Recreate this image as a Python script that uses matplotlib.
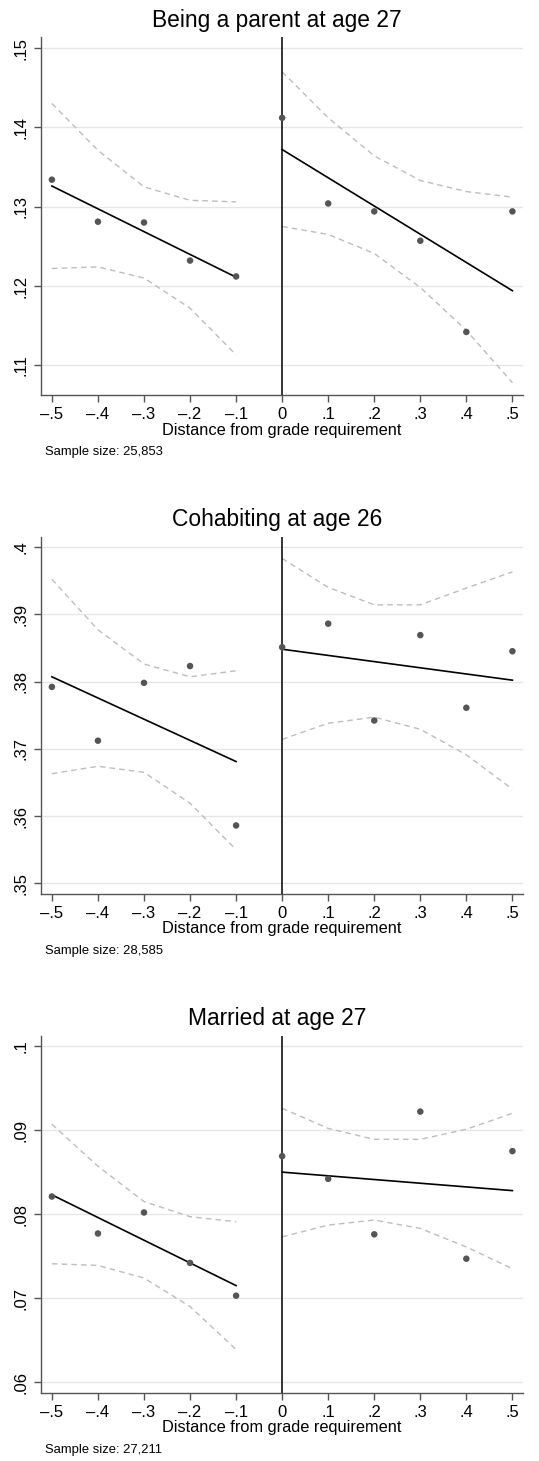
import matplotlib
matplotlib.use("Agg")
import matplotlib.pyplot as plt
import numpy as np

plt.rcParams["font.family"] = ["Liberation Sans", "DejaVu Sans"]

X = [-0.5, -0.4, -0.3, -0.2, -0.1, 0.0, 0.1, 0.2, 0.3, 0.4, 0.5]
X_LEFT = X[:5]
X_RIGHT = X[5:]

TITLES = ["Being a parent at age 27", "Cohabiting at age 26", "Married at age 27"]
SAMPLE_SIZES = ["25,853", "28,585", "27,211"]

# binned means
parent_points = [.1334, .1281, .1280, .1232, .1212, .1412, .1304, .1294, .1257, .1142, .1294]
cohab_points = [.3792, .3712, .3798, .3823, .3586, .3851, .3886, .3742, .3869, .3761, .3845]
married_points = [.0821, .0777, .0802, .0742, .0703, .0869, .0842, .0776, .0922, .0747, .0875]

# linear fits (endpoints on each side)
parent_fit_left = [.1326, .1211]
parent_fit_right = [.1372, .1194]
cohab_fit_left = [.3807, .3681]
cohab_fit_right = [.3848, .3802]
married_fit_left = [.0823, .0715]
married_fit_right = [.0850, .0828]

# confidence bands
parent_ci_hi_left = [.1430, .1371, .1325, .1308, .1306]
parent_ci_lo_left = [.1222, .1224, .1210, .1172, .1113]
parent_ci_hi_right = [.1470, .1412, .1364, .1333, .1319, .1312]
parent_ci_lo_right = [.1275, .1265, .1241, .1198, .1144, .1078]

cohab_ci_hi_left = [.3952, .3877, .3826, .3807, .3816]
cohab_ci_lo_left = [.3663, .3674, .3665, .3619, .3550]
cohab_ci_hi_right = [.3983, .3940, .3914, .3914, .3939, .3963]
cohab_ci_lo_right = [.3714, .3738, .3747, .3729, .3691, .3640]

married_ci_hi_left = [.0907, .0857, .0815, .0797, .0791]
married_ci_lo_left = [.0741, .0739, .0724, .0690, .0639]
married_ci_hi_right = [.0926, .0902, .0889, .0889, .0901, .0920]
married_ci_lo_right = [.0773, .0787, .0793, .0783, .0761, .0735]

Y_TICKS = [
    [.11, .12, .13, .14, .15],
    [.35, .36, .37, .38, .39, .4],
    [.06, .07, .08, .09, .1],
]
Y_LIMS = [(.10625, .15139), (.34841, .40153), (.05876, .10123)]

panels = [
    (parent_points, parent_fit_left, parent_fit_right,
     parent_ci_hi_left, parent_ci_lo_left, parent_ci_hi_right, parent_ci_lo_right),
    (cohab_points, cohab_fit_left, cohab_fit_right,
     cohab_ci_hi_left, cohab_ci_lo_left, cohab_ci_hi_right, cohab_ci_lo_right),
    (married_points, married_fit_left, married_fit_right,
     married_ci_hi_left, married_ci_lo_left, married_ci_hi_right, married_ci_lo_right),
]


def stata_label(v):
    s = f"{v:.2f}".rstrip("0").rstrip(".")
    if s in ("0", "-0"):
        return "0"
    s = s.replace("0.", ".")
    return s.replace("-", "\u2013")


W, H = 539, 1461
fig = plt.figure(figsize=(W / 100, H / 100), dpi=100)

left_px, right_px = 41.3, 523.0
tops = [37.0, 536.7, 1035.7]
bottoms = [395.0, 894.0, 1392.7]

ci_color = "#bdbdbd"
dot_color = "#555555"

for i, (pts, fl, fr, chl, cll, chr_, clr) in enumerate(panels):
    ax = fig.add_axes([
        left_px / W,
        1 - bottoms[i] / H,
        (right_px - left_px) / W,
        (bottoms[i] - tops[i]) / H,
    ])
    ax.set_xlim(-0.523, 0.523)
    ax.set_ylim(*Y_LIMS[i])

    for yt in Y_TICKS[i]:
        ax.axhline(yt, color="#e6e6e6", lw=1.0, zorder=0)

    ax.plot(X_LEFT, chl, color=ci_color, lw=1.0, dashes=(4, 3), zorder=2)
    ax.plot(X_LEFT, cll, color=ci_color, lw=1.0, dashes=(4, 3), zorder=2)
    ax.plot(X_RIGHT, chr_, color=ci_color, lw=1.0, dashes=(4, 3), zorder=2)
    ax.plot(X_RIGHT, clr, color=ci_color, lw=1.0, dashes=(4, 3), zorder=2)

    ax.plot([X_LEFT[0], X_LEFT[-1]], fl, color="black", lw=1.2, zorder=3)
    ax.plot([X_RIGHT[0], X_RIGHT[-1]], fr, color="black", lw=1.2, zorder=3)

    ax.scatter(X, pts, s=22, color=dot_color, edgecolors="none", zorder=4)
    ax.axvline(0, color="black", lw=1.1, zorder=3)

    for side in ("top", "right"):
        ax.spines[side].set_visible(False)
    for side in ("left", "bottom"):
        ax.spines[side].set_color("#555555")
        ax.spines[side].set_linewidth(1.0)

    ax.set_xticks(X)
    ax.set_xticklabels([stata_label(v) for v in X], fontsize=12)
    ax.set_yticks(Y_TICKS[i])
    ax.set_yticklabels([stata_label(v) for v in Y_TICKS[i]], fontsize=12,
                       rotation=90, va="center")
    ax.tick_params(axis="x", length=5, width=1.0, color="#555555", pad=3.5)
    ax.tick_params(axis="y", length=5, width=1.0, color="#555555", pad=4)
    ax.set_xlabel("Distance from grade requirement", fontsize=11.8, labelpad=0.5)

    fig.text(277 / W, 1 - (tops[i] - 17) / H, TITLES[i], ha="center",
             va="center", fontsize=16.4)
    fig.text(45 / W, 1 - (bottoms[i] + 57) / H,
             f"Sample size: {SAMPLE_SIZES[i]}", ha="left", va="center",
             fontsize=9.4)

fig.savefig("out.png", dpi=100, facecolor="white")
